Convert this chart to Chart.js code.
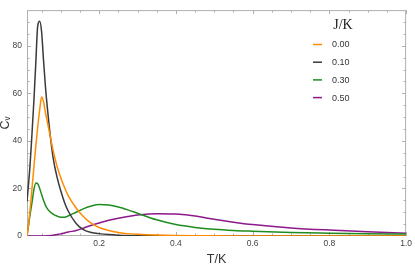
<!DOCTYPE html>
<html>
<head>
<meta charset="utf-8">
<script src="https://cdn.jsdelivr.net/npm/chart.js@4.4.1/dist/chart.umd.min.js"></script>
<style>
  html, body { margin: 0; padding: 0; background: #fff; }
</style>
</head>
<body>
<canvas id="cv_chart" width="415" height="264"></canvas>
<script>
const temps = [0.012, 0.016, 0.02, 0.025, 0.03, 0.035, 0.04, 0.045, 0.05, 0.055, 0.06, 0.065, 0.07,
  0.08, 0.09, 0.1, 0.11, 0.12, 0.14, 0.16, 0.18, 0.2, 0.225, 0.25, 0.275, 0.3, 0.35, 0.4, 0.45,
  0.5, 0.55, 0.6, 0.7, 0.8, 0.9, 1.0];

// specific heat C_v for each J/K
const cvJ000 = [0, 5, 11, 20, 29, 38, 46, 53, 58.5, 56.5, 52, 48, 44,
  36, 29.5, 24.5, 20.3, 16.8, 11.8, 8.0, 5.3, 3.6, 2.3, 1.5, 1.0, 0.75, 0.42, 0.24, 0.12,
  0.06, 0.03, 0.02, 0, 0, 0, 0];
const cvJ010 = [14.5, 22, 30, 43, 57, 73, 88.5, 90.3, 86, 74, 63, 54, 46,
  33, 25, 19, 14, 10.3, 5.3, 2.6, 1.5, 1.0, 0.6, 0.35, 0.2, 0.12, 0.05, 0, 0,
  0, 0, 0, 0, 0, 0, 0];
const cvJ030 = [0, 4.5, 9, 14, 19.5, 22.3, 22.0, 20, 17.5, 15, 13, 11.5, 10.5,
  9.2, 8.4, 7.9, 7.9, 8.5, 10.0, 11.5, 12.6, 13.2, 13.0, 12.2, 11.0, 9.6, 6.8, 4.8, 3.6,
  2.8, 2.3, 2.0, 1.5, 1.2, 0.95, 0.8];
const cvJ050 = [0, 0, 0, 0, 0, 0, 0, 0, 0, 0.02, 0.05, 0.1, 0.15,
  0.3, 0.6, 0.9, 1.3, 1.7, 2.3, 3.4, 4.5, 5.5, 6.6, 7.5, 8.2, 8.8, 9.4, 9.2, 8.4,
  7.0, 5.8, 4.8, 3.4, 2.5, 1.8, 1.2];

const seriesLabels = ['0.00', '0.10', '0.30', '0.50'];
const xTickValues = [0.2, 0.4, 0.6, 0.8, 1.0];
const yTickValues = [0, 20, 40, 60, 80];

const toPoints = (vals) => temps.map((t, i) => ({x: t, y: vals[i]}));

// Mathematica style frame with inward ticks on all four sides
const framePlugin = {
    id: 'frame',
    beforeDatasetsDraw(chart) {
        const {ctx, chartArea: a, scales: {x, y}} = chart;
        ctx.save();
        ctx.strokeStyle = '#b0b0b0';
        ctx.lineWidth = 1;
        ctx.strokeRect(a.left + 0.5, a.top + 0.5, a.right - a.left - 1, a.bottom - a.top - 1);
        ctx.beginPath();
        for (let k = 1; k <= 20; k++) {
            const v = k * 0.05;
            const px = Math.round(x.getPixelForValue(v)) + 0.5;
            const len = (k % 4 === 0) ? 4 : 2.5;
            ctx.moveTo(px, a.bottom); ctx.lineTo(px, a.bottom - len);
            ctx.moveTo(px, a.top); ctx.lineTo(px, a.top + len);
        }
        for (let k = 1; k <= 18; k++) {
            const v = k * 5;
            const py = Math.round(y.getPixelForValue(v)) + 0.5;
            const len = (k % 4 === 0) ? 4 : 2.5;
            ctx.moveTo(a.left, py); ctx.lineTo(a.left + len, py);
            ctx.moveTo(a.right, py); ctx.lineTo(a.right - len, py);
        }
        ctx.stroke();
        ctx.restore();
    }
};

// legend box in the upper right, titled J/K
const legendPlugin = {
    id: 'jLegend',
    afterDraw(chart) {
        const {ctx} = chart;
        ctx.save();
        ctx.fillStyle = '#222';
        ctx.font = '14px "Liberation Serif", "DejaVu Serif", serif';
        ctx.textAlign = 'center';
        ctx.textBaseline = 'middle';
        ctx.fillText('J/K', 343, 25);
        ctx.font = '9px "Liberation Sans", Arial, sans-serif';
        ctx.textAlign = 'left';
        chart.data.datasets.forEach((ds, i) => {
            const yy = 44.5 + i * 17.7;
            ctx.strokeStyle = ds.borderColor;
            ctx.lineWidth = 1.5;
            ctx.beginPath();
            ctx.moveTo(313, yy);
            ctx.lineTo(322, yy);
            ctx.stroke();
            ctx.fillStyle = '#333';
            ctx.fillText(ds.label, 332, yy + 0.5);
        });
        ctx.restore();
    }
};

const lineStyle = {fill: false, pointRadius: 0, borderWidth: 1.5, cubicInterpolationMode: 'monotone'};

new Chart(document.getElementById('cv_chart').getContext('2d'), {
    type: 'line',
    data: {
        datasets: [
            {label: seriesLabels[0], data: toPoints(cvJ000), borderColor: '#ff8c00', ...lineStyle},
            {label: seriesLabels[1], data: toPoints(cvJ010), borderColor: '#3a3a3a', ...lineStyle},
            {label: seriesLabels[2], data: toPoints(cvJ030), borderColor: '#1e8c1e', ...lineStyle},
            {label: seriesLabels[3], data: toPoints(cvJ050), borderColor: '#8c198c', ...lineStyle}
        ]
    },
    options: {
        responsive: false,
        animation: false,
        devicePixelRatio: 1,
        layout: {padding: {top: 0, right: 6, left: 0, bottom: 0}},
        plugins: {legend: {display: false}, tooltip: {enabled: false}},
        scales: {
            x: {
                type: 'linear',
                min: 0.012,
                max: 1.0,
                grid: {display: false, drawTicks: false},
                border: {display: false},
                afterBuildTicks: (s) => { s.ticks = xTickValues.map(v => ({value: v})); },
                afterFit: (s) => { s.height = 28; },
                ticks: {
                    padding: 3,
                    maxRotation: 0,
                    color: '#444',
                    font: {size: 8.5, family: '"Liberation Sans", Arial, sans-serif'},
                    callback: (v) => v.toFixed(1)
                },
                title: {
                    display: true,
                    text: 'T/K',
                    color: '#333',
                    padding: {top: 0, bottom: -3},
                    font: {size: 12.5, family: '"Liberation Sans", Arial, sans-serif'}
                }
            },
            y: {
                min: 0,
                max: 95,
                grid: {display: false, drawTicks: false},
                border: {display: false},
                afterBuildTicks: (s) => { s.ticks = yTickValues.map(v => ({value: v})); },
                afterFit: (s) => { s.width = 27; },
                ticks: {
                    padding: 5,
                    color: '#444',
                    font: {size: 8.5, family: '"Liberation Sans", Arial, sans-serif'}
                },
                title: {
                    display: true,
                    text: 'Cᵥ',
                    color: '#333',
                    padding: {top: -1.5, bottom: 0},
                    font: {size: 12.5, family: '"Liberation Sans", "DejaVu Sans", Arial, sans-serif'}
                }
            }
        }
    },
    plugins: [framePlugin, legendPlugin]
});
</script>
</body>
</html>
